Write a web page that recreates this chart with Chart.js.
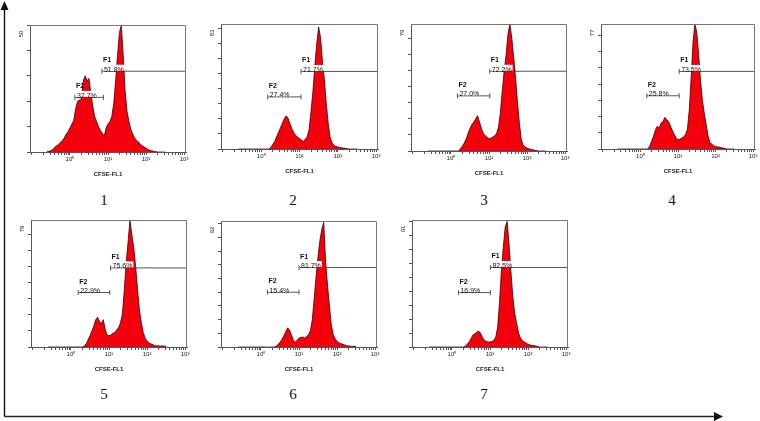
<!DOCTYPE html>
<html lang="en">
<head>
    <meta charset="UTF-8">
    <title>CFSE-FL1 histograms</title>
    <script src="https://cdn.jsdelivr.net/npm/chart.js"></script>
    <style>
        body {
            margin: 0;
            width: 760px;
            height: 421px;
            position: relative;
            overflow: hidden;
            background: #fff;
            font-family: "Liberation Sans", Arial, sans-serif;
        }
        canvas {
            position: absolute;
        }
        .num {
            position: absolute;
            font-family: "Liberation Serif", "Times New Roman", serif;
            font-size: 15px;
            color: #111;
            transform: translate(-50%, -50%);
        }
        #arrows {
            position: absolute;
            left: 0;
            top: 0;
        }
    </style>
</head>
<body>
    <svg id="arrows" width="760" height="421">
        <line x1="4.5" y1="416.5" x2="4.5" y2="9" stroke="#111" stroke-width="1.4"/>
        <polygon points="0.5,10 4.5,1 8.5,10" fill="#111"/>
        <line x1="4.5" y1="416.5" x2="715" y2="416.5" stroke="#222" stroke-width="1.4"/>
        <polygon points="714,412 723,416.5 714,421" fill="#111"/>
    </svg>

    <script>
        // log10 of the CFSE-FL1 bin centres (shared by all panels)
        const binExp = [-0.6, -0.55, -0.5, -0.45, -0.4, -0.35, -0.3, -0.25, -0.2, -0.15, -0.1, -0.05,
            0, 0.05, 0.1, 0.15, 0.2, 0.25, 0.3, 0.35, 0.4, 0.45, 0.5, 0.55, 0.6, 0.65, 0.7, 0.75, 0.8, 0.85, 0.9, 0.95,
            1, 1.05, 1.1, 1.15, 1.2, 1.25, 1.3, 1.35, 1.4, 1.45, 1.5, 1.55, 1.6, 1.65, 1.7, 1.75, 1.8, 1.85, 1.9, 1.95,
            2, 2.05, 2.1, 2.15, 2.2, 2.25, 2.3, 2.35, 2.4, 2.45, 2.5];

        // event counts per bin, one list per sample
        const counts1 = [0.2, 0.3, 0.5, 1, 1.8, 2.5, 3, 3.8, 4.5, 5.5, 7, 8,
            9.5, 11, 12.5, 17, 20, 20.5, 21, 28, 30, 28, 29, 23, 18, 14, 12, 10, 8.5, 7.5, 6.2, 9.5,
            11, 12, 14, 19, 28, 38, 47, 50, 38, 24, 16, 12, 9, 7, 5.5, 4.5, 4, 3, 2.5, 2,
            1.5, 1, 0.7, 0.5, 0.3, 0.2, 0, 0, 0, 0, 0];
        const counts2 = [0, 0, 0, 0, 0, 0, 0, 0, 0, 0, 0, 0,
            0, 0, 0, 0, 0, 1, 3, 5, 8, 11, 14, 17, 20, 22, 20.5, 17, 13.5, 11, 9, 8,
            7, 6, 5, 6.5, 8, 13, 25, 38, 55, 70, 81, 74, 58, 46, 30, 17, 8, 4, 2.5, 1.8,
            1.3, 1, 0.8, 0.6, 0.5, 0.2, 0, 0, 0, 0, 0];
        const counts3 = [0, 0, 0, 0, 0, 0, 0, 0, 0, 0, 0, 0,
            0, 0, 0, 0, 0, 1.5, 3, 5, 7.5, 11, 14, 16.5, 18, 20, 22, 18, 14, 11, 9.5, 8.5,
            7.5, 8, 8.7, 9.5, 11, 15, 24, 38, 50, 60, 73, 79, 70, 58, 45, 30, 17, 7, 3.5, 2.5,
            1.8, 1.4, 1, 0.8, 0.5, 0.3, 0, 0, 0, 0, 0];
        const counts4 = [0, 0, 0, 0, 0, 0, 0, 0, 0, 0, 0, 0,
            0, 0, 0, 0, 0, 2, 5, 8, 12, 14, 13, 16, 17, 19.5, 18, 17, 14, 11.5, 9, 7,
            5.7, 6, 6.7, 7.5, 9, 12, 24, 44, 66, 77, 72, 58, 42, 30, 22, 15, 8, 4, 3, 2,
            1.6, 1.3, 1.2, 0.8, 0.6, 0.3, 0, 0, 0, 0, 0];
        const counts5 = [0, 0, 0, 0, 0, 0, 0, 0, 0, 0, 0, 0,
            0, 0, 0, 0, 0, 0, 0, 0.5, 2, 4.5, 7, 10, 13, 17, 18.5, 16, 14.5, 17, 11, 7.5,
            7, 7.5, 8.5, 9, 10.5, 12, 15, 20, 35, 52, 65, 79, 70, 62, 50, 36, 23, 15, 9, 5.5,
            3.5, 2.5, 2, 1.5, 1, 0.6, 0.8, 0.5, 0.7, 0.5, 0.6];
        const counts6 = [0, 0, 0, 0, 0, 0, 0, 0, 0, 0, 0, 0,
            0, 0, 0, 0, 0, 0, 0, 0, 0.5, 2, 3.5, 5.5, 8, 11, 14, 12.5, 9, 5, 3.5, 5,
            6.5, 7, 7.3, 6.5, 7.7, 9, 12, 20, 36, 52, 66, 78, 86, 91, 62, 45, 30, 16, 9, 6,
            4, 3, 2.5, 2, 1.5, 1, 0.8, 0.6, 0.5, 0.5, 0.5];
        const counts7 = [0, 0, 0, 0, 0, 0, 0, 0, 0, 0, 0, 0,
            0, 0, 0, 0, 0, 0, 0, 0.5, 2, 3.6, 6, 8.5, 9.5, 10.5, 11.5, 10, 7, 4.8, 4, 3.6,
            3.6, 4, 4.8, 7, 14, 32, 55, 72, 86, 90, 74, 54, 36, 24, 17, 10, 6.5, 4.5, 3.6, 2.8,
            2, 1.5, 1.2, 1, 0.8, 0.5, 0, 0, 0, 0, 0];
        const allCounts = [counts1, counts2, counts3, counts4, counts5, counts6, counts7];

        const sampleNames = ['1', '2', '3', '4', '5', '6', '7'];
        const yMax = [50, 83, 79, 77, 79, 92, 91];
        const f1Pct = ['51.8%', '71.7%', '72.2%', '73.5%', '75.6%', '81.7%', '82.5%'];
        const f2Pct = ['37.7%', '27.4%', '27.0%', '25.8%', '22.9%', '15.4%', '16.9%'];
        // gate limits (log10 of CFSE-FL1) and the count level each marker is drawn at
        const f1From = [0.84, 1.04, 1.02, 1.03, 1.04, 1.0, 1.01];
        const f2From = [0.13, 0.17, 0.17, 0.17, 0.19, 0.17, 0.17];
        const f2To = [0.88, 1.04, 1.02, 1.03, 1.02, 1.0, 1.01];
        const f1Level = [31.8, 51.5, 49.6, 47.8, 49.2, 58, 57];
        const f2Level = [21.5, 34.6, 34.3, 32.8, 33.9, 40, 39];
        const axisTitle = 'CFSE-FL1';

        // page layout: plot boxes [left, right, top, bottom] and sample number centres
        const boxes = [[30, 186, 24, 152], [221, 378, 23, 149], [411, 567, 23, 151], [601, 757, 23, 149],
            [31, 187, 219, 347], [221, 377, 220, 347], [412, 568, 219, 347]];
        const numPos = [[104, 200], [293, 200], [484, 200], [672, 200], [104, 394], [293, 394], [484, 394]];

        const Y_W = 16, X_H = 26, PAD_T = 4;
        const X_MIN = 10 ** -1.05, X_MAX = 10 ** 3.05;
        const SUP = ['\u2070', '\u00b9', '\u00b2', '\u00b3'];
        const FONT = '"Liberation Sans", Arial, sans-serif';

        Chart.defaults.font.family = FONT;
        Chart.defaults.color = '#222';

        const logTicks = [];
        for (let d = -1; d <= 2; d++) {
            for (let k = 1; k <= 9; k++) logTicks.push(k * 10 ** d);
        }
        logTicks.push(1000);

        function gatePlugin(i) {
            return {
                id: 'gates' + i,
                afterDatasetsDraw(chart) {
                    const ctx = chart.ctx, xs = chart.scales.x, ys = chart.scales.y;
                    ctx.save();
                    ctx.textBaseline = 'alphabetic';
                    const marks = [['F1', f1Pct[i], f1From[i], f1Level[i]], ['F2', f2Pct[i], f2From[i], f2Level[i]]];
                    marks.forEach(([name, pct, from, level]) => {
                        const px = xs.getPixelForValue(10 ** from);
                        const py = ys.getPixelForValue(level);
                        ctx.font = 'bold 7px ' + FONT;
                        ctx.fillStyle = '#111';
                        ctx.fillText(name, px + 1, py - 9);
                        ctx.font = '7px ' + FONT;
                        const w = ctx.measureText(pct).width;
                        ctx.fillStyle = '#fff';
                        ctx.fillRect(px + 1, py - 6.5, w + 2, 6);
                        ctx.fillStyle = '#111';
                        ctx.fillText(pct, px + 2, py + 0.5);
                    });
                    ctx.restore();
                },
                afterDraw(chart) {
                    const ctx = chart.ctx, a = chart.chartArea;
                    ctx.save();
                    ctx.strokeStyle = '#777';
                    ctx.lineWidth = 1;
                    ctx.beginPath();
                    ctx.moveTo(a.left, a.top + 0.5);
                    ctx.lineTo(a.right - 0.5, a.top + 0.5);
                    ctx.lineTo(a.right - 0.5, a.bottom);
                    ctx.stroke();
                    // count at the top of the y axis
                    ctx.translate(a.left - 9, a.top + 9);
                    ctx.rotate(-Math.PI / 2);
                    ctx.font = '6px ' + FONT;
                    ctx.fillStyle = '#222';
                    ctx.textAlign = 'center';
                    ctx.textBaseline = 'middle';
                    ctx.fillText(String(yMax[i]), 0, 0);
                    ctx.restore();
                }
            };
        }

        function makePanel(i) {
            const [L, R, T, B] = boxes[i];
            const padR = i === 3 ? 3 : 8;
            const canvas = document.createElement('canvas');
            canvas.width = R - L + Y_W + padR;
            canvas.height = B - T + PAD_T + X_H;
            canvas.style.left = (L - Y_W) + 'px';
            canvas.style.top = (T - PAD_T) + 'px';
            document.body.appendChild(canvas);

            const hist = binExp.map((e, k) => ({ x: 10 ** e, y: allCounts[i][k] }));
            const gateStyle = {
                type: 'line',
                borderColor: '#555',
                borderWidth: 1,
                pointStyle: 'line',
                pointRotation: 90,
                pointRadius: 2.5,
                pointBorderColor: '#555',
                pointBorderWidth: 1,
                fill: false
            };

            new Chart(canvas, {
                type: 'line',
                data: {
                    datasets: [
                        {
                            label: 'Sample ' + sampleNames[i],
                            data: hist,
                            fill: 'origin',
                            backgroundColor: '#f4000c',
                            borderColor: '#3a0000',
                            borderWidth: 0.8,
                            pointRadius: 0,
                            tension: 0
                        },
                        Object.assign({ label: 'F1', data: [{ x: 10 ** f1From[i], y: f1Level[i] }, { x: X_MAX, y: f1Level[i] }] }, gateStyle),
                        Object.assign({ label: 'F2', data: [{ x: 10 ** f2From[i], y: f2Level[i] }, { x: 10 ** f2To[i], y: f2Level[i] }] }, gateStyle)
                    ]
                },
                options: {
                    responsive: false,
                    animation: false,
                    devicePixelRatio: 1,
                    layout: { padding: { top: PAD_T, right: padR, left: 0, bottom: 0 } },
                    plugins: { legend: { display: false }, tooltip: { enabled: false } },
                    scales: {
                        x: {
                            type: 'logarithmic',
                            min: X_MIN,
                            max: X_MAX,
                            afterBuildTicks: s => { s.ticks = logTicks.map(v => ({ value: v })); },
                            afterFit: s => { s.height = X_H; },
                            border: { color: '#555' },
                            grid: { drawOnChartArea: false, tickLength: 3, color: '#555' },
                            ticks: {
                                autoSkip: false,
                                maxRotation: 0,
                                minRotation: 0,
                                padding: 1,
                                font: { size: 6 },
                                callback: v => {
                                    const e = Math.log10(v), r = Math.round(e);
                                    return (Math.abs(e - r) < 1e-6 && r >= 0) ? '10' + SUP[r] : '';
                                }
                            },
                            title: {
                                display: true,
                                text: axisTitle,
                                font: { size: 6, weight: 'bold' },
                                padding: 0
                            }
                        },
                        y: {
                            min: 0,
                            max: yMax[i],
                            afterFit: s => { s.width = Y_W; },
                            border: { color: '#555' },
                            grid: { drawOnChartArea: false, tickLength: 3, color: '#555' },
                            ticks: { stepSize: 10, includeBounds: false, display: false }
                        }
                    }
                },
                plugins: [gatePlugin(i)]
            });

            const num = document.createElement('div');
            num.className = 'num';
            num.textContent = sampleNames[i];
            num.style.left = numPos[i][0] + 'px';
            num.style.top = numPos[i][1] + 'px';
            document.body.appendChild(num);
        }

        sampleNames.forEach((_, i) => makePanel(i));
    </script>
</body>
</html>
